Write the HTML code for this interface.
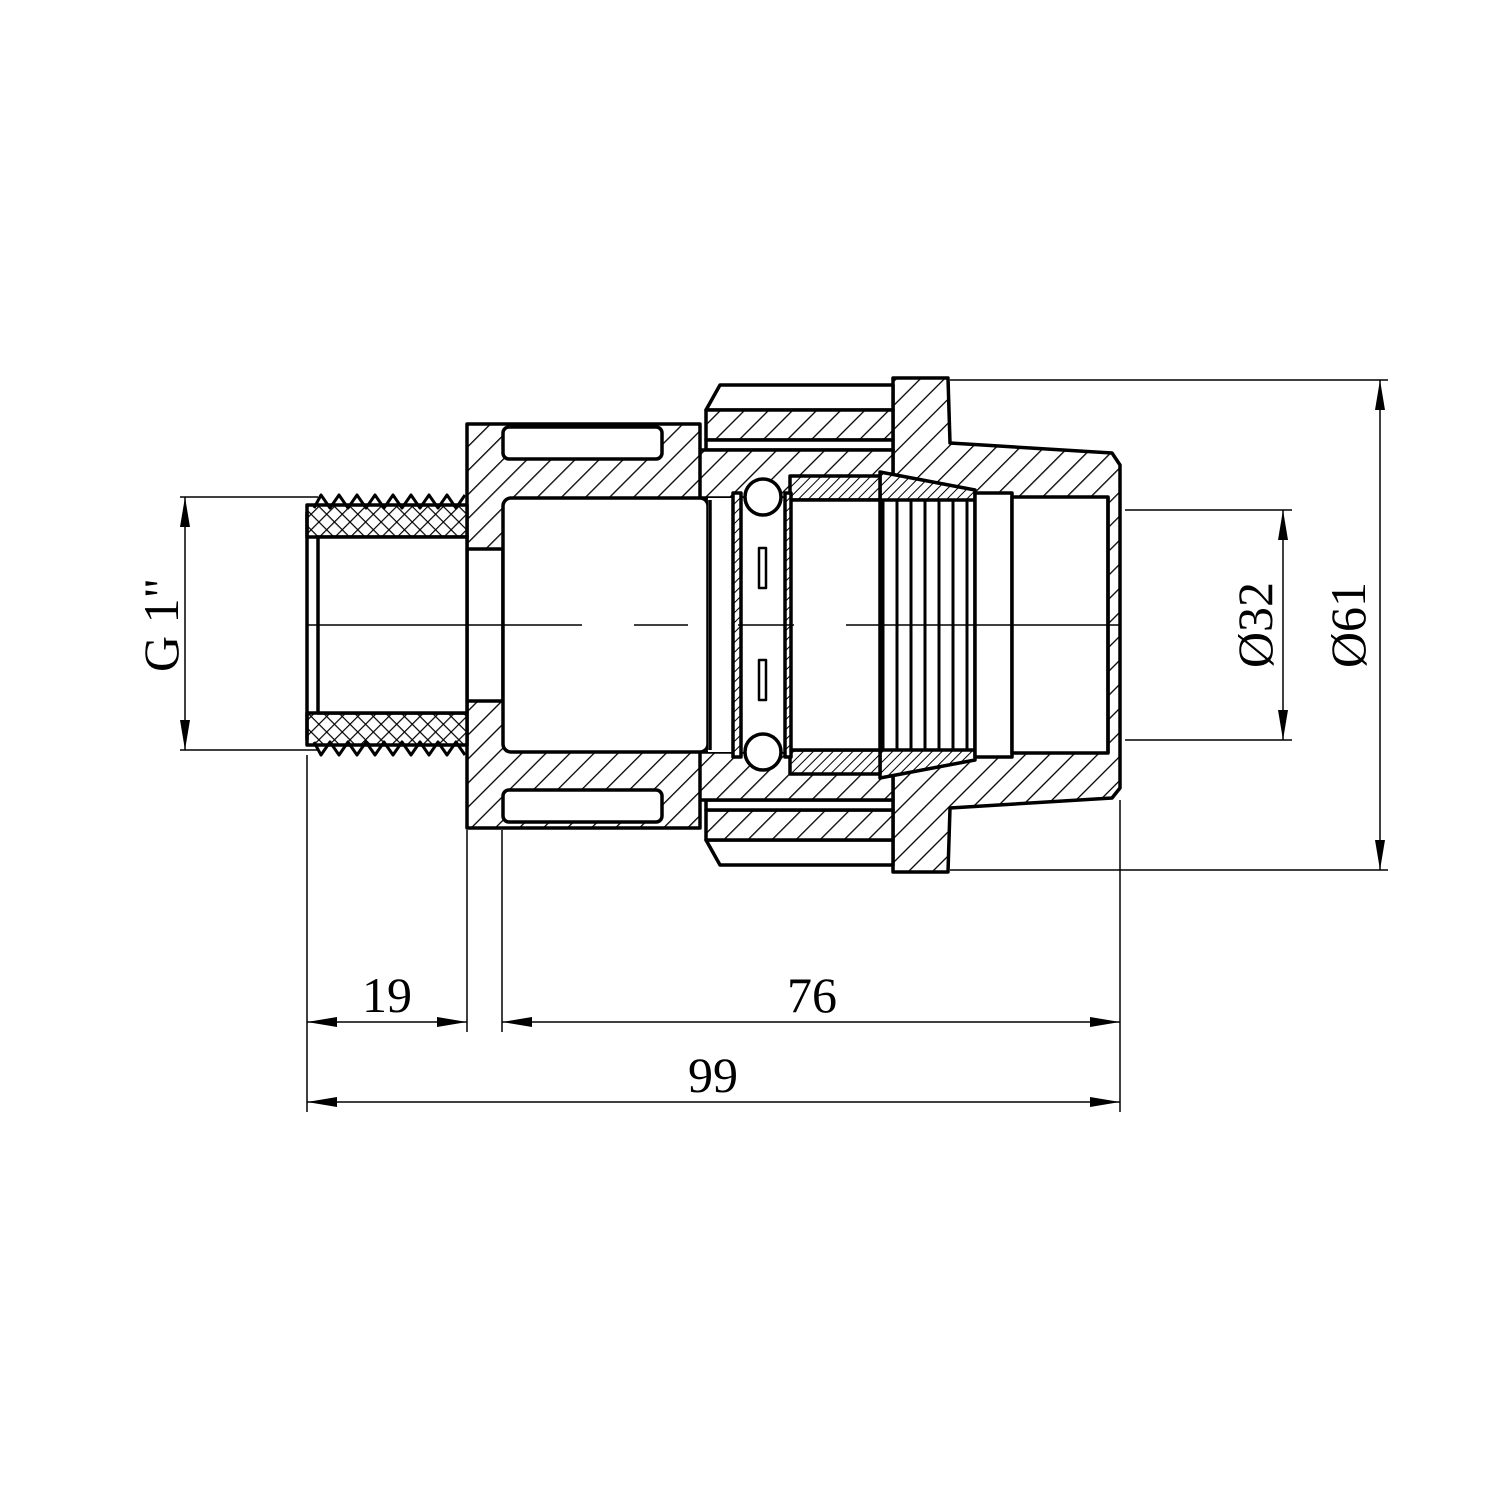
<!DOCTYPE html>
<html><head><meta charset="utf-8"><style>html,body{margin:0;padding:0;background:#fff}svg{display:block}</style></head>
<body>
<svg width="1500" height="1500" viewBox="0 0 1500 1500" xmlns="http://www.w3.org/2000/svg">
<defs>
<pattern id="h" width="17" height="17" patternUnits="userSpaceOnUse" patternTransform="rotate(45)">
<rect width="17" height="17" fill="#fff"/><line x1="0" y1="0" x2="0" y2="17" stroke="#000" stroke-width="2.6"/></pattern>
<pattern id="hf" width="7" height="7" patternUnits="userSpaceOnUse" patternTransform="rotate(45)">
<rect width="7" height="7" fill="#fff"/><line x1="0" y1="0" x2="0" y2="7" stroke="#000" stroke-width="2"/></pattern>
<pattern id="x" width="11" height="11" patternUnits="userSpaceOnUse" patternTransform="rotate(45)">
<rect width="11" height="11" fill="#fff"/><line x1="0" y1="0" x2="0" y2="11" stroke="#000" stroke-width="2.4"/><line x1="0" y1="0" x2="11" y2="0" stroke="#000" stroke-width="2.4"/></pattern>
<marker id="a" viewBox="0 0 30 10" refX="30" refY="5" markerWidth="30" markerHeight="10" markerUnits="userSpaceOnUse" orient="auto-start-reverse"><path d="M0,0 L30,5 L0,10 z" fill="#000"/></marker>
</defs>
<g stroke="#000" stroke-width="3.5" stroke-linejoin="round">
<path d="M893,378 L948,378 L950,443 L1112,453 L1120,465 L1120,788 L1112,798 L950,808 L948,872 L893,872 L893,755 L893,495 Z" fill="url(#h)"/>
<path d="M720,385 L893,385 L893,410 L706,410 Z" fill="#fff"/>
<rect x="706" y="410" width="187" height="30" fill="url(#h)"/>
<rect x="706" y="440" width="187" height="10" fill="#fff"/>
<path d="M720,865 L893,865 L893,840 L706,840 Z" fill="#fff"/>
<rect x="706" y="810" width="187" height="30" fill="url(#h)"/>
<rect x="706" y="800" width="187" height="10" fill="#fff"/>
<rect x="697" y="450" width="196" height="48" fill="url(#h)"/>
<rect x="697" y="752" width="196" height="48" fill="url(#h)"/>
<rect x="467" y="424" width="233" height="404" fill="url(#h)"/>
<rect x="503" y="427" width="159" height="32" rx="6" fill="#fff"/>
<rect x="503" y="790" width="159" height="32" rx="6" fill="#fff"/>
<rect x="467" y="549" width="36" height="152" fill="#fff"/>
<rect x="503" y="498" width="205" height="254" rx="8" fill="#fff"/>
<rect x="708" y="498" width="400" height="254" fill="#fff" stroke="none"/>
<path d="M880,472 L975,490 L975,760 L880,778 Z" fill="url(#hf)"/>
<rect x="880" y="500" width="95" height="250" fill="#fff"/>
<rect x="975" y="493" width="37" height="264" fill="#fff"/>
<rect x="1012" y="497" width="96" height="256" fill="#fff"/>
<line x1="1108" y1="497" x2="1108" y2="753"/>
<rect x="790" y="476" width="90" height="24" fill="url(#hf)"/>
<rect x="790" y="750" width="90" height="24" fill="url(#hf)"/>
<rect x="790" y="500" width="90" height="250" fill="#fff"/>
<rect x="733" y="493" width="8" height="264" fill="url(#hf)"/>
<rect x="785" y="493" width="6" height="264" fill="url(#hf)"/>
<rect x="759" y="548" width="7" height="40" fill="#fff" stroke-width="2.5"/>
<rect x="759" y="660" width="7" height="40" fill="#fff" stroke-width="2.5"/>
<circle cx="763" cy="497" r="18" fill="#fff"/>
<circle cx="763" cy="752" r="18" fill="#fff"/>
<line x1="710" y1="500" x2="710" y2="750"/>
<g stroke-width="3">
<line x1="883" y1="500" x2="883" y2="750"/><line x1="897" y1="500" x2="897" y2="750"/><line x1="911" y1="500" x2="911" y2="750"/><line x1="925" y1="500" x2="925" y2="750"/><line x1="939" y1="500" x2="939" y2="750"/><line x1="953" y1="500" x2="953" y2="750"/><line x1="967" y1="500" x2="967" y2="750"/>
</g>
<rect x="307" y="505" width="160" height="32" fill="url(#x)"/>
<rect x="307" y="713" width="160" height="32" fill="url(#x)"/>
<polyline fill="none" stroke-width="3" points="314,508 321,495 330,508 339,495 348,508 357,495 366,508 375,495 384,508 393,495 402,508 411,495 420,508 429,495 438,508 447,495 456,508 465,495"/>
<polyline fill="none" stroke-width="3" points="314,742 321,755 330,742 339,755 348,742 357,755 366,742 375,755 384,742 393,755 402,742 411,755 420,742 429,755 438,742 447,755 456,742 465,755"/>
<rect x="318" y="537" width="149" height="176" fill="#fff"/>
<line x1="307" y1="512" x2="307" y2="740"/>
</g>
<g stroke="#000" stroke-width="1.5">
<line x1="307" y1="625" x2="582" y2="625"/><line x1="634" y1="625" x2="688" y2="625"/><line x1="738" y1="625" x2="794" y2="625"/><line x1="846" y1="625" x2="1120" y2="625"/>
<line x1="180" y1="497" x2="318" y2="497"/><line x1="180" y1="750" x2="318" y2="750"/>
<line x1="1125" y1="510" x2="1292" y2="510"/><line x1="1125" y1="740" x2="1292" y2="740"/>
<line x1="950" y1="380" x2="1388" y2="380"/><line x1="950" y1="870" x2="1388" y2="870"/>
<line x1="307" y1="755" x2="307" y2="1112"/><line x1="467" y1="830" x2="467" y2="1032"/><line x1="502" y1="830" x2="502" y2="1032"/><line x1="1120" y1="800" x2="1120" y2="1112"/>
<line x1="185" y1="497" x2="185" y2="750" marker-start="url(#a)" marker-end="url(#a)"/>
<line x1="1283" y1="510" x2="1283" y2="740" marker-start="url(#a)" marker-end="url(#a)"/>
<line x1="1380" y1="380" x2="1380" y2="870" marker-start="url(#a)" marker-end="url(#a)"/>
<line x1="307" y1="1022" x2="467" y2="1022" marker-start="url(#a)" marker-end="url(#a)"/>
<line x1="502" y1="1022" x2="1120" y2="1022" marker-start="url(#a)" marker-end="url(#a)"/>
<line x1="307" y1="1102" x2="1120" y2="1102" marker-start="url(#a)" marker-end="url(#a)"/>
</g>
<g font-family="Liberation Serif, serif" font-size="50" fill="#000" text-anchor="middle">
<text x="387" y="1012">19</text>
<text x="812" y="1012">76</text>
<text x="713" y="1092">99</text>
<text transform="translate(178,625) rotate(-90)">G 1"</text>
<text transform="translate(1272,625) rotate(-90)">Ø32</text>
<text transform="translate(1365,625) rotate(-90)">Ø61</text>
</g>
</svg>
</body></html>
